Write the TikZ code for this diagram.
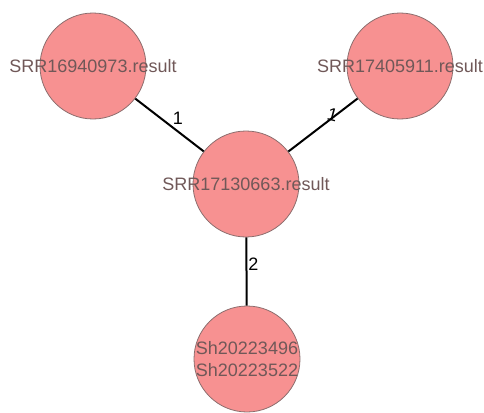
\documentclass[tikz,border=0pt]{standalone}
\usepackage{fontspec}
\setmainfont{Liberation Sans}
\definecolor{sampfill}{RGB}{247,145,145}
\definecolor{sampline}{RGB}{140,110,110}
\definecolor{samptext}{RGB}{112,88,88}
\begin{document}
\begin{tikzpicture}[x=1pt, y=-1pt,
  sample/.style={circle, draw=sampline, fill=sampfill, line width=0.8pt,
    minimum size=106pt, inner sep=0pt},
  samplabel/.style={text=samptext, font=\fontsize{18}{21.5}\selectfont,
    align=center, inner sep=0pt},
  link/.style={line width=2pt, black},
  weight/.style={font=\fontsize{18}{20}\selectfont, inner sep=1pt}]

\useasboundingbox (0,0) rectangle (484,412);

% samples
\node[sample, label={[samplabel]center:SRR16940973.result}] (s1) at (93,66) {};
\node[sample, label={[samplabel]center:SRR17405911.result}] (s2) at (400,66) {};
\node[sample, label={[samplabel]center:SRR17130663.result}] (s3) at (246,184) {};
\node[sample, label={[samplabel]center:Sh20223496\\Sh20223522}] (s4) at (247,359) {};

% links with shared counts
\draw[link] (s1) -- node[weight, pos=.52, anchor=south west] {1} (s3);
\draw[link] (s2) -- node[weight, pos=.45, anchor=south, xshift=4pt, rotate=-15] {1} (s3);
\draw[link] (s3) -- node[weight, pos=.4, anchor=west] {2} (s4);
\end{tikzpicture}
\end{document}
